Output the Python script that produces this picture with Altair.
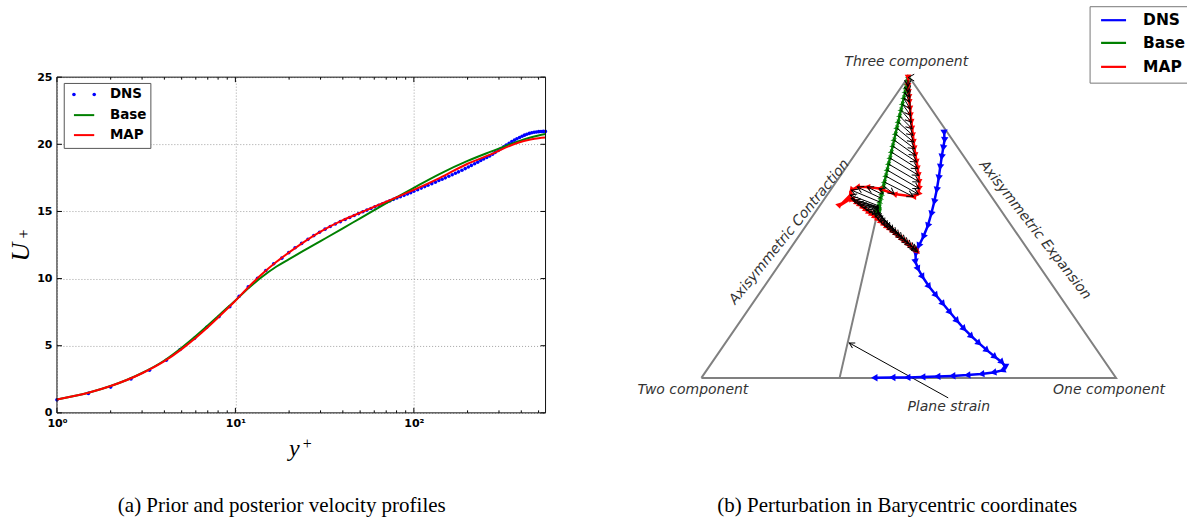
import math
import altair as alt
import pandas as pd

# ---------------- (a) mean velocity profile in wall units ----------------
dns_yplus = [1.0, 1.5, 2.0, 2.6, 3.3, 4.1, 4.9, 5.9, 6.9, 8.1,
             9.3, 10.5, 11.8, 13.3, 14.8, 16.4, 18.2, 19.9, 21.6, 23.5,
             25.5, 27.5, 29.6, 31.8, 34.0, 36.3, 38.7, 41.2, 43.7, 46.3,
             49.0, 51.8, 54.6, 57.5, 60.5, 63.6, 66.8, 70.0, 73.4, 76.8,
             80.3, 84.0, 88.0, 92.0, 96.0, 100.0, 105.0, 110.0, 115.0, 120.0,
             126.0, 132.0, 138.0, 144.0, 150.0, 157.0, 164.0, 171.0, 178.0, 186.0,
             194.0, 202.0, 210.0, 219.0, 228.0, 237.0, 246.0, 256.0, 266.0, 276.0,
             286.0, 297.0, 308.0, 319.0, 330.0, 342.0, 354.0, 366.0, 378.0, 391.0,
             404.0, 417.0, 430.0, 444.0, 458.0, 472.0, 486.0, 501.0, 516.0, 531.0,
             546.0]
dns_u = [0.97, 1.45, 1.92, 2.52, 3.17, 3.92, 4.72, 5.55, 6.37, 7.17,
         7.9, 8.68, 9.38, 10.02, 10.6, 11.1, 11.52, 11.93, 12.3, 12.62,
         12.92, 13.2, 13.45, 13.68, 13.88, 14.06, 14.24, 14.4, 14.55, 14.7,
         14.84, 14.98, 15.1, 15.22, 15.34, 15.46, 15.57, 15.68, 15.79, 15.9,
         16.0, 16.1, 16.2, 16.3, 16.4, 16.5, 16.62, 16.74, 16.85, 16.95,
         17.07, 17.18, 17.3, 17.4, 17.5, 17.62, 17.73, 17.84, 17.95, 18.07,
         18.19, 18.31, 18.43, 18.55, 18.67, 18.79, 18.9, 19.02, 19.13, 19.26,
         19.4, 19.54, 19.68, 19.82, 19.95, 20.08, 20.2, 20.31, 20.41, 20.51,
         20.6, 20.68, 20.75, 20.81, 20.86, 20.9, 20.92, 20.94, 20.95, 20.96,
         20.96]

model_yplus = [1, 1.5, 2, 3, 4, 5, 6, 7, 8, 9, 10, 12, 14, 17, 20, 25, 30,
               40, 50, 60, 80, 100, 140, 200, 270, 380, 450, 500, 547]
base_u = [1.0, 1.5, 2.0, 2.97, 3.9, 4.85, 5.72, 6.5, 7.2, 7.82, 8.37, 9.35,
          10.1, 10.9, 11.45, 12.19, 12.79, 13.74, 14.49, 15.1, 16.05, 16.76,
          17.8, 18.76, 19.45, 20.2, 20.5, 20.65, 20.76]
map_u = [1.0, 1.5, 2.0, 2.95, 3.85, 4.75, 5.6, 6.38, 7.1, 7.75, 8.35, 9.45,
         10.3, 11.25, 11.95, 12.85, 13.5, 14.35, 14.9, 15.35, 16.05, 16.6,
         17.5, 18.55, 19.25, 20.1, 20.35, 20.45, 20.5]

x_major = [1, 10, 100]
x_minor = [2, 3, 4, 5, 6, 7, 8, 9, 20, 30, 40, 50, 60, 70, 80, 90,
           200, 300, 400, 500]
y_major = [0, 5, 10, 15, 20, 25]

# ---------------- (b) barycentric map ----------------
corner_x = [0.0, 1.0, 0.5]
corner_y = [0.0, 0.0, 0.866]
corner_name = ["Two component", "One component", "Three component"]
strain_x = [1 / 3, 0.5]
strain_y = [0.0, 0.866]

dns_bx = [0.5855, 0.5863, 0.5831, 0.5795, 0.5759, 0.5723, 0.5675, 0.5614,
          0.5542, 0.5458, 0.5349, 0.5241, 0.5169, 0.5164, 0.5229, 0.5337,
          0.5494, 0.5663, 0.5831, 0.6000, 0.6169, 0.6337, 0.6518, 0.6699,
          0.6892, 0.7084, 0.7253, 0.7337, 0.7253, 0.7036, 0.6747, 0.6410,
          0.6048, 0.5687, 0.5325, 0.4964, 0.4602, 0.4169]
dns_by = [0.7035, 0.6825, 0.6596, 0.6338, 0.6051, 0.5736, 0.5391, 0.5047,
          0.4703, 0.4359, 0.4044, 0.3786, 0.3556, 0.3327, 0.3126, 0.2896,
          0.2618, 0.2366, 0.2122, 0.1878, 0.1635, 0.1405, 0.1190, 0.0989,
          0.0789, 0.0602, 0.0445, 0.0315, 0.0215, 0.0158, 0.0115, 0.0080,
          0.0057, 0.0040, 0.0026, 0.0014, 0.0009, 0.0006]

# MAP path (includes the short excursion to the left of the loop)
map_bx = [0.4985, 0.4988, 0.5000, 0.5012, 0.5017, 0.5034, 0.5048, 0.5065,
          0.5082, 0.5101, 0.5120, 0.5140, 0.5164, 0.5193, 0.5217, 0.5239,
          0.5253, 0.5253, 0.5229, 0.5108, 0.4651, 0.4289, 0.4000, 0.3759,
          0.3614, 0.3590, 0.3325, 0.3614, 0.3687, 0.3759, 0.3831, 0.3904,
          0.3976, 0.4048, 0.4120, 0.4193, 0.4265, 0.4337, 0.4410, 0.4482,
          0.4554, 0.4627, 0.4699, 0.4771, 0.4843, 0.4916, 0.4988, 0.5060,
          0.5133, 0.5181, 0.5217]
map_by = [0.8620, 0.8374, 0.8202, 0.8059, 0.7915, 0.7723, 0.7534, 0.7342,
          0.7152, 0.6960, 0.6768, 0.6579, 0.6387, 0.6197, 0.6005, 0.5813,
          0.5624, 0.5432, 0.5277, 0.5205, 0.5277, 0.5434, 0.5478, 0.5478,
          0.5391, 0.5248, 0.4933, 0.5148, 0.5091, 0.5019, 0.4962, 0.4890,
          0.4818, 0.4747, 0.4689, 0.4617, 0.4546, 0.4474, 0.4402, 0.4330,
          0.4273, 0.4201, 0.4130, 0.4058, 0.3986, 0.3915, 0.3843, 0.3771,
          0.3699, 0.3656, 0.3613]

# perturbation arrows: Base state (tail) -> MAP state (head)
base_qx = [0.4995, 0.4978, 0.4956, 0.4934, 0.4912, 0.4879, 0.4846, 0.4813,
           0.4779, 0.4746, 0.4713, 0.4680, 0.4647, 0.4614, 0.4581, 0.4548,
           0.4514, 0.4481, 0.4448, 0.4415, 0.4393, 0.4371, 0.4349, 0.4327,
           0.4305, 0.4283, 0.4277, 0.4275, 0.4274, 0.4272, 0.4271, 0.4269,
           0.4267, 0.4266, 0.4264, 0.4262, 0.4261, 0.4259, 0.4257, 0.4256,
           0.4254, 0.4252, 0.4251, 0.4249, 0.4247, 0.4246, 0.4245, 0.4245,
           0.4244, 0.4244]
base_qy = [0.8620, 0.8546, 0.8432, 0.8317, 0.8202, 0.8030, 0.7858, 0.7686,
           0.7514, 0.7342, 0.7170, 0.6998, 0.6826, 0.6653, 0.6481, 0.6309,
           0.6137, 0.5965, 0.5793, 0.5621, 0.5506, 0.5391, 0.5277, 0.5162,
           0.5047, 0.4933, 0.4904, 0.4895, 0.4887, 0.4878, 0.4870, 0.4861,
           0.4852, 0.4844, 0.4835, 0.4827, 0.4818, 0.4809, 0.4801, 0.4792,
           0.4784, 0.4775, 0.4766, 0.4758, 0.4749, 0.4743, 0.4738, 0.4735,
           0.4732, 0.4732]
map_qx = [0.4985, 0.4988, 0.5000, 0.5012, 0.5017, 0.5034, 0.5048, 0.5065,
          0.5082, 0.5101, 0.5120, 0.5140, 0.5164, 0.5193, 0.5217, 0.5239,
          0.5253, 0.5253, 0.5229, 0.5108, 0.4651, 0.4289, 0.4000, 0.3759,
          0.3614, 0.3590, 0.3614, 0.3687, 0.3759, 0.3831, 0.3904, 0.3976,
          0.4048, 0.4120, 0.4193, 0.4265, 0.4337, 0.4410, 0.4482, 0.4554,
          0.4627, 0.4699, 0.4771, 0.4843, 0.4916, 0.4988, 0.5060, 0.5133,
          0.5181, 0.5217]
map_qy = [0.8620, 0.8374, 0.8202, 0.8059, 0.7915, 0.7723, 0.7534, 0.7342,
          0.7152, 0.6960, 0.6768, 0.6579, 0.6387, 0.6197, 0.6005, 0.5813,
          0.5624, 0.5432, 0.5277, 0.5205, 0.5277, 0.5434, 0.5478, 0.5478,
          0.5391, 0.5248, 0.5148, 0.5091, 0.5019, 0.4962, 0.4890, 0.4818,
          0.4747, 0.4689, 0.4617, 0.4546, 0.4474, 0.4402, 0.4330, 0.4273,
          0.4201, 0.4130, 0.4058, 0.3986, 0.3915, 0.3843, 0.3771, 0.3699,
          0.3656, 0.3613]

series = ["DNS", "Base", "MAP"]
BLUE, GREEN, RED = "#0000ff", "#008000", "#ff0000"
colors = [BLUE, GREEN, RED]

# ---------------- layout ----------------
W1, H1 = 489, 336
W2, H2 = 560, 336
GAP = 76
XB = [-0.19277, 1.15663]
YB = [-0.10037, 0.86321]
PX = W2 / (XB[1] - XB[0])
PY = H2 / (YB[1] - YB[0])

SANS = "DejaVu Sans"
SERIF = "Liberation Serif"
one = alt.Data(values=[{"k": 0}])

STAR = ("M0,-1L0.2245,-0.309L0.951,-0.309L0.3633,0.118L0.5878,0.809L0,0.382"
        "L-0.5878,0.809L-0.3633,0.118L-0.951,-0.309L-0.2245,-0.309Z")
CHEVRON = "M-0.55,1L0,0L0.55,1"


def heading(dx, dy):
    return math.degrees(math.atan2(dx * PX, dy * PY)) % 360


def path_frame(xs, ys):
    n = len(xs)
    ang = []
    for i in range(n):
        a, b = max(i - 1, 0), min(i + 1, n - 1)
        ang.append(heading(xs[b] - xs[a], ys[b] - ys[a]))
    return pd.DataFrame({"bx": xs, "by": ys, "i": range(n), "ang": ang})


def text_at(x, y, s, **kw):
    return alt.Chart(one).mark_text(text=s, **kw).encode(
        x=alt.value(x), y=alt.value(y))


def seg(x1, y1, x2, y2, **kw):
    return alt.Chart(one).mark_rule(**kw).encode(
        x=alt.value(x1), y=alt.value(y1), x2=alt.value(x2), y2=alt.value(y2))


# ======================= panel (a) =======================
xs = alt.Scale(type="log", domain=[1, 547], nice=False)
ys = alt.Scale(domain=[0, 25], nice=False, zero=False)
axis_common = dict(grid=True, gridDash=[1, 2], gridColor="#8c8c8c",
                   gridWidth=0.8, ticks=False, domain=False,
                   labelFont=SANS, labelFontWeight="bold", labelFontSize=11,
                   labelColor="#000000", labelPadding=5, title=None)
x_axis = alt.Axis(values=x_major, labelFlush=False,
                  labelExpr="datum.value == 1 ? '10\u2070' : "
                            "(datum.value == 10 ? '10\u00b9' : '10\u00b2')",
                  **axis_common)
y_axis = alt.Axis(values=y_major, **axis_common)

dns_df = pd.DataFrame({"yp": dns_yplus, "u": dns_u})
model_df = pd.DataFrame({"yp": model_yplus, "base": base_u, "map": map_u})

dns_pts = alt.Chart(dns_df).mark_circle(size=13, color=BLUE, opacity=1).encode(
    x=alt.X("yp:Q", scale=xs, axis=x_axis),
    y=alt.Y("u:Q", scale=ys, axis=y_axis))
base_line = alt.Chart(model_df).mark_line(
    color=GREEN, strokeWidth=2, interpolate="monotone").encode(
    x=alt.X("yp:Q", scale=xs, axis=x_axis),
    y=alt.Y("base:Q", scale=ys, axis=y_axis))
map_line = alt.Chart(model_df).mark_line(
    color=RED, strokeWidth=2, interpolate="monotone").encode(
    x=alt.X("yp:Q", scale=xs, axis=x_axis),
    y=alt.Y("map:Q", scale=ys, axis=y_axis))

xmaj_df = pd.DataFrame({"t": x_major})
xmin_df = pd.DataFrame({"t": x_minor})
ymaj_df = pd.DataFrame({"t": y_major})
tick_layers = []
for df, ln in ((xmaj_df, 5), (xmin_df, 2.5)):
    for y0, y1 in ((H1, H1 - ln), (0, ln)):
        tick_layers.append(alt.Chart(df).mark_rule(color="black", strokeWidth=1).encode(
            x=alt.X("t:Q", scale=xs, axis=x_axis),
            y=alt.value(y0), y2=alt.value(y1)))
for x0, x1 in ((0, 5), (W1 - 5, W1)):
    tick_layers.append(alt.Chart(ymaj_df).mark_rule(color="black", strokeWidth=1).encode(
        y=alt.Y("t:Q", scale=ys, axis=y_axis),
        x=alt.value(x0), x2=alt.value(x1)))

frame = alt.Chart(one).mark_rect(fillOpacity=0, stroke="#111111", strokeWidth=1).encode(
    x=alt.value(0), x2=alt.value(W1), y=alt.value(0), y2=alt.value(H1))

# legend of panel (a)
leg_a = [alt.Chart(one).mark_rect(fill="white", stroke="#555555", strokeWidth=1).encode(
    x=alt.value(7.3), x2=alt.value(94), y=alt.value(6.3), y2=alt.value(71.3))]
for dx in (17, 37.3):
    leg_a.append(alt.Chart(one).mark_circle(size=13, color=BLUE, opacity=1).encode(
        x=alt.value(dx), y=alt.value(17.3)))
for name, col, yy in zip(series, colors, (17.3, 38, 58)):
    if name != "DNS":
        leg_a.append(seg(17, yy, 37.3, yy, color=col, strokeWidth=2))
    leg_a.append(text_at(53, yy, name, font=SANS, fontWeight="bold", fontSize=13.5,
                         align="left", baseline="middle", color="#000000"))

titles_a = [
    text_at(-36, 175, "U", font=SERIF, fontStyle="italic", fontSize=26, angle=270,
            align="center", baseline="middle", color="#000000"),
    text_at(-33, 157, "+", font=SERIF, fontSize=16, angle=270,
            align="center", baseline="middle", color="#000000"),
    text_at(237.5, 379, "y", font=SERIF, fontStyle="italic", fontSize=24,
            align="center", baseline="alphabetic", color="#000000"),
    text_at(250.5, 367, "+", font=SERIF, fontSize=16,
            align="center", baseline="middle", color="#000000"),
    text_at(225, 429, "(a)  Prior and posterior velocity profiles", font=SERIF,
            fontSize=21, align="center", baseline="middle", color="#000000"),
]

# fixes the page extent around both panels
canvas = alt.Chart(one).mark_rect(opacity=0).encode(
    x=alt.value(-57), x2=alt.value(1130), y=alt.value(-77), y2=alt.value(440))

left = alt.layer(canvas, dns_pts, base_line, map_line, *tick_layers, frame,
                 *leg_a, *titles_a).properties(width=W1, height=H1)

# ======================= panel (b) =======================
bxs = alt.Scale(domain=XB, nice=False, zero=False)
bys = alt.Scale(domain=YB, nice=False, zero=False)


def bx(field="bx"):
    return alt.X(f"{field}:Q", scale=bxs, axis=None)


def by(field="by"):
    return alt.Y(f"{field}:Q", scale=bys, axis=None)


tri_df = pd.DataFrame({"bx": corner_x + corner_x[:1], "by": corner_y + corner_y[:1],
                       "i": range(4)})
triangle = alt.Chart(tri_df).mark_line(color="#808080", strokeWidth=2).encode(
    x=bx(), y=by(), order="i:Q")
strain_df = pd.DataFrame({"bx": [strain_x[0]], "by": [strain_y[0]],
                          "bx2": [strain_x[1]], "by2": [strain_y[1]]})
strain = alt.Chart(strain_df).mark_rule(color="#808080", strokeWidth=2).encode(
    x=bx(), y=by(), x2="bx2:Q", y2="by2:Q")

lab = dict(font=SANS, fontStyle="italic", fontSize=14, color="#333333",
           align="center", baseline="middle")
labels_b = [
    text_at(285, -15, corner_name[2], **lab),
    text_at(71.5, 313, corner_name[0], **lab),
    text_at(488, 313, corner_name[1], **lab),
    text_at(327.5, 330, "Plane strain", **lab),
    text_at(168, 155, "Axisymmetric Contraction", angle=309, **lab),
    text_at(414, 153, "Axisymmetric Expansion", angle=52, **lab),
]

# annotation arrow pointing at the plane-strain line
ann_tail, ann_head = (327, 321), (228, 266)
ann_ang = math.degrees(math.atan2(ann_head[0] - ann_tail[0],
                                  -(ann_head[1] - ann_tail[1]))) % 360
annot = [
    seg(ann_tail[0], ann_tail[1], ann_head[0], ann_head[1], color="black", strokeWidth=1),
    alt.Chart(one).mark_point(shape=CHEVRON, size=110, filled=False, color="black",
                              strokeWidth=1, opacity=1).encode(
        x=alt.value(ann_head[0]), y=alt.value(ann_head[1]), angle=alt.value(ann_ang)),
]


def curve(xs_, ys_, col, shape, msize, width=2.5):
    df = path_frame(xs_, ys_)
    line = alt.Chart(df).mark_line(color=col, strokeWidth=width).encode(
        x=bx(), y=by(), order="i:Q")
    marks = alt.Chart(df).mark_point(shape=shape, size=msize, filled=True,
                                     color=col, opacity=1).encode(
        x=bx(), y=by(), angle=alt.Angle("ang:Q", scale=None))
    return [line, marks]


dns_curve = curve(dns_bx, dns_by, BLUE, "triangle-up", 55)
base_curve = curve(base_qx, base_qy, GREEN, STAR, 55, width=2.2)
map_curve = curve(map_bx, map_by, RED, "triangle-up", 45)

q_df = pd.DataFrame({"bx": base_qx, "by": base_qy, "mx": map_qx, "my": map_qy})
q_df["ang"] = [heading(mx - x0, my - y0) for x0, y0, mx, my in
               zip(base_qx, base_qy, map_qx, map_qy)]
quiver_lines = alt.Chart(q_df).mark_rule(color="black", strokeWidth=1).encode(
    x=bx(), y=by(), x2="mx:Q", y2="my:Q")
quiver_heads = alt.Chart(q_df).mark_point(shape=CHEVRON, size=150, filled=False,
                                          color="black", strokeWidth=1,
                                          opacity=1).encode(
    x=bx("mx"), y=by("my"), angle=alt.Angle("ang:Q", scale=None))

# legend of panel (b), cut by the right page edge
leg_b = [
    seg(469, -70.5, 469, 6, color="#777777", strokeWidth=1),
    seg(469, -70.5, 566, -70.5, color="#777777", strokeWidth=1),
    seg(469, 6, 566, 6, color="#777777", strokeWidth=1),
]
for name, col, yy in zip(series, colors, (-57, -34.3, -10.3)):
    leg_b.append(seg(480, yy, 505, yy, color=col, strokeWidth=2.2))
    leg_b.append(text_at(522, yy, name, font=SANS, fontWeight="bold", fontSize=15.5,
                         align="left", baseline="middle", color="#000000"))

caption_b = text_at(276, 429, "(b)  Perturbation in Barycentric coordinates",
                    font=SERIF, fontSize=21, align="center", baseline="middle",
                    color="#000000")

right = alt.layer(triangle, strain, *labels_b, *annot, *dns_curve, *base_curve,
                  *map_curve, quiver_lines, quiver_heads, *leg_b,
                  caption_b).properties(width=W2, height=H2)

chart = alt.hconcat(left, right, spacing=GAP, bounds="flush").properties(
    padding=0).configure_view(strokeOpacity=0)

chart.save("out.html", embed_options={"renderer": "svg", "actions": False})
